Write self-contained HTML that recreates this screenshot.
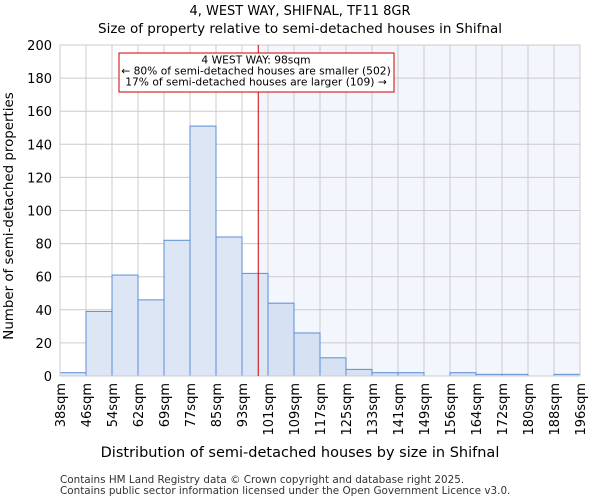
<!DOCTYPE html>
<html><head><meta charset="utf-8"><style>
body{margin:0;background:#fff;font-family:"DejaVu Sans","Liberation Sans",sans-serif}
</style></head><body>
<svg id="c" width="600" height="500" xmlns="http://www.w3.org/2000/svg" font-family="DejaVu Sans, Liberation Sans, sans-serif">
<text x="300" y="15" text-anchor="middle" font-size="13">4, WEST WAY, SHIFNAL, TF11 8GR</text>
<text x="300" y="33" text-anchor="middle" font-size="13.5">Size of property relative to semi-detached houses in Shifnal</text>
<g id="plot"></g>
<text x="300" y="457" text-anchor="middle" font-size="14.5">Distribution of semi-detached houses by size in Shifnal</text>
<text transform="translate(13,216) rotate(-90)" text-anchor="middle" font-size="13.4">Number of semi-detached properties</text>
<text x="60" y="483" font-size="10.4" fill="#333">Contains HM Land Registry data © Crown copyright and database right 2025.</text>
<text x="60" y="494" font-size="10.4" fill="#333">Contains public sector information licensed under the Open Government Licence v3.0.</text>
</svg>
<script>
const binLabels=["38sqm","46sqm","54sqm","62sqm","69sqm","77sqm","85sqm","93sqm","101sqm","109sqm","117sqm","125sqm","133sqm","141sqm","149sqm","156sqm","164sqm","172sqm","180sqm","188sqm","196sqm"];
const counts=[2,39,61,46,82,151,84,62,44,26,11,4,2,2,0,2,1,1,0,1];
const yTicks=[0,20,40,60,80,100,120,140,160,180,200];
const markerIndex=7.625;
const NS="http://www.w3.org/2000/svg";
const L=60,R=580,T=45,B=376,yMax=200;
const n=counts.length,bw=(R-L)/n;
const xs=i=>L+i*bw, ys=v=>B-(v/yMax)*(B-T);
const g=document.getElementById('plot');
function mk(t,a){const e=document.createElementNS(NS,t);for(const k in a)e.setAttribute(k,a[k]);g.appendChild(e);return e;}
const mx=xs(markerIndex);
let e=mk('rect',{x:mx,y:T,width:R-mx,height:B-T,fill:'#f3f6fc'});


yTicks.forEach(v=>{let l=mk('line',{x1:L,x2:R,y1:ys(v),y2:ys(v),stroke:'#cccccc'});


let t=mk('text',{x:L-8,y:ys(v)+5,'text-anchor':'end','font-size':13});t.textContent=v;

});
binLabels.forEach((s,i)=>{let l=mk('line',{x1:xs(i),x2:xs(i),y1:T,y2:B,stroke:'#cccccc'});


let t=mk('text',{transform:`translate(${xs(i)+5},383) rotate(-90)`,'text-anchor':'end','font-size':13});t.textContent=s;

});
counts.forEach((v,i)=>{if(v<=0)return;let r=mk('rect',{x:xs(i),y:ys(v),width:bw,height:B-ys(v),fill:i>=8?'#d6e1f3':'#dde6f4',stroke:'#5b8fd6','stroke-width':1});

});
e=mk('rect',{x:L,y:T,width:R-L,height:B-T,fill:'none',stroke:'#cccccc'});


e=mk('line',{x1:mx,x2:mx,y1:T,y2:B,stroke:'#cc0000','stroke-width':1});


e=mk('rect',{x:119,y:53,width:275,height:39,fill:'#fff',stroke:'#cc0000','stroke-width':1});


["4 WEST WAY: 98sqm","← 80% of semi-detached houses are smaller (502)","17% of semi-detached houses are larger (109) →"].forEach((s,k)=>{let t=mk('text',{x:256,y:63.5+k*11,'text-anchor':'middle','font-size':10.7});t.textContent=s;

});
</script>
</body></html>
